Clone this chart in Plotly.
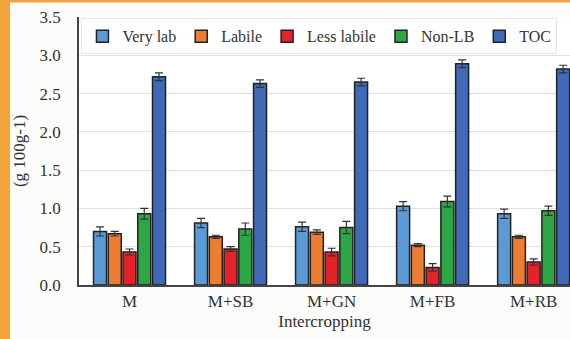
import plotly.graph_objects as go

categories = ["M", "M+SB", "M+GN", "M+FB", "M+RB"]
very_lab = [0.70, 0.81, 0.76, 1.03, 0.93]
labile = [0.67, 0.63, 0.69, 0.52, 0.63]
less_labile = [0.43, 0.47, 0.43, 0.23, 0.30]
non_lb = [0.93, 0.73, 0.75, 1.09, 0.97]
toc = [2.72, 2.63, 2.65, 2.89, 2.82]

err_very_lab = [0.06, 0.06, 0.06, 0.06, 0.06]
err_labile = [0.03, 0.02, 0.03, 0.02, 0.02]
err_less_labile = [0.04, 0.03, 0.05, 0.05, 0.04]
err_non_lb = [0.07, 0.08, 0.08, 0.07, 0.06]
err_toc = [0.05, 0.05, 0.05, 0.05, 0.05]

series = [
    ("Very lab", very_lab, err_very_lab, "#5B9BD5"),
    ("Labile", labile, err_labile, "#ED7D31"),
    ("Less labile", less_labile, err_less_labile, "#E52228"),
    ("Non-LB", non_lb, err_non_lb, "#2BA844"),
    ("TOC", toc, err_toc, "#4069B8"),
]

fig = go.Figure()
for name, vals, errs, col in series:
    fig.add_trace(go.Bar(
        x=categories, y=vals, name=name,
        marker=dict(color=col, line=dict(color="#222222", width=1.5)),
        error_y=dict(type="data", array=errs, visible=True, color="#333333",
                     thickness=1.2, width=4),
    ))

font_family = "Liberation Serif"
fig.update_layout(
    width=570, height=339,
    margin=dict(l=79, r=0, t=17, b=54, autoexpand=False),
    paper_bgcolor="#FCFDFB",
    plot_bgcolor="#FFFFFF",
    barmode="group",
    bargap=0.27,
    bargroupgap=0.12,
    font=dict(family=font_family, size=17, color="#333333"),
    legend=dict(
        orientation="h",
        x=0.005, y=0.995, xanchor="left", yanchor="top",
        bgcolor="#FFFFFF",
        bordercolor="#E6E6E6", borderwidth=1,
        font=dict(family=font_family, size=16, color="#333333"),
        itemwidth=30,
        tracegroupgap=0,
    ),
    xaxis=dict(
        range=[-0.5, 4.36], automargin=False,
        showline=True, linecolor="#444444", linewidth=1.5,
        ticks="",
        tickfont=dict(family=font_family, size=17),
        title=dict(text="Intercropping", font=dict(family=font_family, size=17), standoff=5),
    ),
    yaxis=dict(
        range=[0, 3.5], dtick=0.5, tickformat=".1f", automargin=False,
        showline=True, linecolor="#444444", linewidth=1.5,
        showgrid=True, gridcolor="#E0E0E0", gridwidth=1,
        ticks="outside", ticklen=13, tickcolor="rgba(0,0,0,0)",
        tickfont=dict(family=font_family, size=17),
        title=dict(text="(g 100g-1)", font=dict(family=font_family, size=17), standoff=10),
        zeroline=False,
    ),
    shapes=[
        dict(type="rect", xref="paper", yref="paper",
             x0=-0.17, x1=(10 - 79) / 491, y0=-0.25, y1=1.1,
             fillcolor="#F2A43A", line=dict(width=0), layer="above"),
        dict(type="rect", xref="paper", yref="paper",
             x0=-0.17, x1=1.05, y0=(285 - 2.5) / 268, y1=1.1,
             fillcolor="#F2A43A", line=dict(width=0), layer="above"),
    ],
)

fig.write_html(
    "out.html",
    config={"displayModeBar": False},
    post_script="document.body.style.margin='0';document.body.style.padding='0';document.body.style.overflow='hidden';",
)
